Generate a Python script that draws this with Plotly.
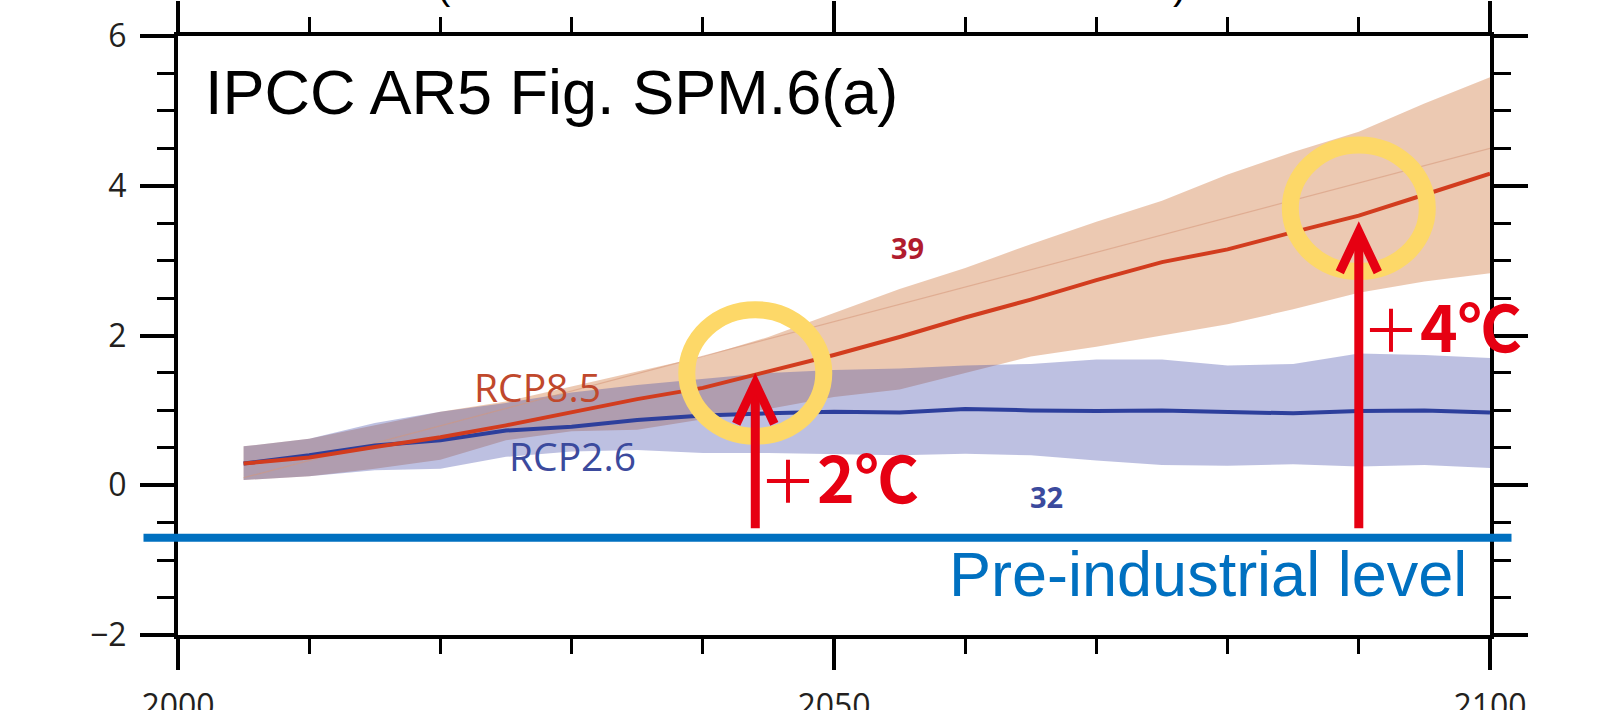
import plotly.graph_objects as go

# ---------------- data ----------------
YEARS = [2005, 2010, 2015, 2020, 2025, 2030, 2035, 2040, 2045, 2050,
         2055, 2060, 2065, 2070, 2075, 2080, 2085, 2090, 2095, 2100]

RCP85_MEAN = [0.29, 0.37, 0.51, 0.64, 0.80, 0.98, 1.15, 1.30, 1.52, 1.74,
              1.98, 2.24, 2.48, 2.74, 2.98, 3.15, 3.38, 3.60, 3.88, 4.16]
RCP85_UPPER = [0.52, 0.62, 0.80, 0.98, 1.12, 1.32, 1.52, 1.72, 1.98, 2.30,
               2.62, 2.90, 3.22, 3.52, 3.80, 4.15, 4.45, 4.72, 5.10, 5.45]
RCP85_LOWER = [0.07, 0.12, 0.22, 0.34, 0.60, 0.72, 0.74, 0.88, 1.02, 1.18,
               1.28, 1.50, 1.72, 1.85, 2.00, 2.15, 2.35, 2.57, 2.72, 2.83]

RCP26_MEAN = [0.29, 0.40, 0.53, 0.60, 0.73, 0.78, 0.87, 0.93, 0.96, 0.98,
              0.97, 1.02, 1.00, 0.99, 1.00, 0.98, 0.96, 0.99, 1.00, 0.97]
RCP26_UPPER = [0.52, 0.62, 0.83, 0.98, 1.10, 1.24, 1.34, 1.42, 1.50, 1.54,
               1.56, 1.60, 1.62, 1.68, 1.68, 1.60, 1.62, 1.76, 1.74, 1.70]
RCP26_LOWER = [0.07, 0.12, 0.20, 0.22, 0.38, 0.45, 0.47, 0.43, 0.43, 0.42,
               0.40, 0.42, 0.40, 0.33, 0.27, 0.26, 0.28, 0.25, 0.27, 0.23]

FAINT_YEARS = [2005, 2100]
FAINT_VALUES = [0.10, 4.50]

PREINDUSTRIAL = -0.7

HIGHLIGHT_YEARS = [2044, 2090]
HIGHLIGHT_VALUES = [1.50, 3.70]
ARROW_BASE = -0.575
ARROW_TIPS = [1.36, 3.385]
ARROW_NUMBERS = ["2", "4"]

MODEL_COUNTS = ["39", "32"]
SERIES_NAMES = ["RCP8.5", "RCP2.6"]

X_RANGE = [2000, 2100]
Y_RANGE = [-2, 6]
X_TICKS = [2000, 2050, 2100]
Y_TICKS = [-2, 0, 2, 4, 6]

# ---------------- styles ----------------
W, H = 1623, 710
ML, MR, MT, MB = 178, 133, 36, 75
PW, PH = W - ML - MR, H - MT - MB

RED_LINE = "#d23c1e"
BLUE_LINE = "#2d3f9c"
ORANGE_FILL = "rgba(192,75,0,0.30)"
BLUE_FILL = "rgba(65,75,170,0.35)"
RED_TEXT = "#c0482c"
BLUE_TEXT = "#3b4a9d"
ARROW_RED = "#e60012"
YELLOW = "#fdd868"
PI_BLUE = "#0070c0"


def px_x(X):
    return (X - ML) / PW


def px_y(Y):
    return (H - MB - Y) / PH


def data_to_paper_y(v):
    return (v - Y_RANGE[0]) / (Y_RANGE[1] - Y_RANGE[0])


fig = go.Figure()

# RCP8.5 band
fig.add_trace(go.Scatter(x=YEARS, y=RCP85_LOWER, mode="lines",
                         line=dict(width=0), hoverinfo="skip", showlegend=False))
fig.add_trace(go.Scatter(x=YEARS, y=RCP85_UPPER, mode="lines", fill="tonexty",
                         fillcolor=ORANGE_FILL, line=dict(width=0),
                         hoverinfo="skip", showlegend=False))
# RCP2.6 band
fig.add_trace(go.Scatter(x=YEARS, y=RCP26_LOWER, mode="lines",
                         line=dict(width=0), hoverinfo="skip", showlegend=False))
fig.add_trace(go.Scatter(x=YEARS, y=RCP26_UPPER, mode="lines", fill="tonexty",
                         fillcolor=BLUE_FILL, line=dict(width=0),
                         hoverinfo="skip", showlegend=False))
# faint line in the RCP8.5 band
fig.add_trace(go.Scatter(x=FAINT_YEARS, y=FAINT_VALUES, mode="lines",
                         line=dict(width=1.2, color="rgba(214,150,120,0.55)"),
                         hoverinfo="skip", showlegend=False))
# means
fig.add_trace(go.Scatter(x=YEARS, y=RCP26_MEAN, mode="lines", name="RCP2.6",
                         line=dict(width=4, color=BLUE_LINE), showlegend=False))
fig.add_trace(go.Scatter(x=YEARS, y=RCP85_MEAN, mode="lines", name="RCP8.5",
                         line=dict(width=4, color=RED_LINE), showlegend=False))

shapes = []
# pre-industrial level line
shapes.append(dict(type="line", xref="paper", yref="paper",
                   x0=px_x(143.5), x1=px_x(1511.5),
                   y0=data_to_paper_y(PREINDUSTRIAL), y1=data_to_paper_y(PREINDUSTRIAL),
                   line=dict(color=PI_BLUE, width=8), layer="above"))
# highlight circles
RX, RY = 5.22, 0.845
for yr, v in zip(HIGHLIGHT_YEARS, HIGHLIGHT_VALUES):
    shapes.append(dict(type="circle", xref="x", yref="y",
                       x0=yr - RX, x1=yr + RX, y0=v - RY, y1=v + RY,
                       line=dict(color=YELLOW, width=17), layer="above"))
# arrows
HX, HY = 1.45, 0.54
for yr, tip in zip(HIGHLIGHT_YEARS, ARROW_TIPS):
    shapes.append(dict(type="line", xref="x", yref="y",
                       x0=yr, x1=yr, y0=ARROW_BASE, y1=tip - 0.03,
                       line=dict(color=ARROW_RED, width=9), layer="above"))
    shapes.append(dict(type="path", xref="x", yref="y",
                       path=f"M {yr - HX},{tip - HY} L {yr},{tip} L {yr + HX},{tip - HY}",
                       line=dict(color=ARROW_RED, width=9), layer="above"))

annotations = []
annotations.append(dict(text="IPCC AR5 Fig. SPM.6(a)", xref="paper", yref="paper",
                        x=px_x(203), y=px_y(92.5), xanchor="left", yanchor="middle",
                        showarrow=False,
                        font=dict(family="Liberation Sans, Arial", size=63, color="black")))
annotations.append(dict(text=SERIES_NAMES[0], xref="paper", yref="paper",
                        x=px_x(472), y=px_y(386.5), xanchor="left", yanchor="middle",
                        showarrow=False,
                        font=dict(family="Open Sans", size=39, color=RED_TEXT)))
annotations.append(dict(text=SERIES_NAMES[1], xref="paper", yref="paper",
                        x=px_x(507), y=px_y(455), xanchor="left", yanchor="middle",
                        showarrow=False,
                        font=dict(family="Open Sans", size=39, color=BLUE_TEXT)))
annotations.append(dict(text="<b>" + MODEL_COUNTS[0] + "</b>", xref="paper", yref="paper",
                        x=px_x(907.5), y=px_y(247.5), xanchor="center", yanchor="middle",
                        showarrow=False,
                        font=dict(family="Open Sans", size=29, color="#b01c2e")))
annotations.append(dict(text="<b>" + MODEL_COUNTS[1] + "</b>", xref="paper", yref="paper",
                        x=px_x(1046), y=px_y(496), xanchor="center", yanchor="middle",
                        showarrow=False,
                        font=dict(family="Open Sans", size=29, color=BLUE_TEXT)))
for num, X, Yc in zip(ARROW_NUMBERS, [757, 1360], [475, 324]):
    lbl = '<span style="font-size:58px">＋</span><b>' + num + '℃</b>'
    annotations.append(dict(text=lbl, xref="paper", yref="paper",
                            x=px_x(X), y=px_y(Yc), xanchor="left", yanchor="middle",
                            showarrow=False,
                            font=dict(family="Noto Sans CJK JP", size=64, color=ARROW_RED)))
annotations.append(dict(text="Pre-industrial level", xref="paper", yref="paper",
                        x=px_x(1469), y=px_y(574), xanchor="right", yanchor="middle",
                        showarrow=False,
                        font=dict(family="Liberation Sans, Arial", size=63, color=PI_BLUE)))
# fragments of a cropped title above the frame
for ch, X in zip(["(", ")"], [444, 1179]):
    annotations.append(dict(text=ch, xref="paper", yref="paper",
                            x=px_x(X), y=px_y(9), xanchor="center", yanchor="bottom",
                            showarrow=False,
                            font=dict(family="Liberation Sans, Arial", size=40, color="black")))

tickfont = dict(family="Open Sans", size=32, color="#231f20")

fig.update_layout(
    width=W, height=H,
    margin=dict(l=ML, r=MR, t=MT, b=MB, pad=0, autoexpand=False),
    paper_bgcolor="white", plot_bgcolor="white",
    showlegend=False,
    shapes=shapes,
    annotations=annotations,
    xaxis=dict(range=X_RANGE, tickmode="array", tickvals=X_TICKS,
               ticktext=[str(t) for t in X_TICKS], automargin=False,
               showgrid=False, zeroline=False,
               showline=True, linecolor="black", linewidth=4, mirror="ticks",
               ticks="outside", ticklen=31, tickwidth=3.5, tickcolor="black",
               ticklabelstandoff=9, tickfont=tickfont,
               minor=dict(dtick=10, tick0=2000, ticks="outside", ticklen=15,
                          tickwidth=2.5, tickcolor="black", showgrid=False)),
    yaxis=dict(range=Y_RANGE, tickmode="array", tickvals=Y_TICKS, automargin=False,
               showgrid=False, zeroline=False,
               showline=True, linecolor="black", linewidth=4, mirror="ticks",
               ticks="outside", ticklen=34, tickwidth=3.5, tickcolor="black",
               ticklabelstandoff=7, tickfont=tickfont,
               minor=dict(dtick=0.5, tick0=0, ticks="outside", ticklen=17,
                          tickwidth=2.5, tickcolor="black", showgrid=False)),
)

fig.write_html("out.html")
